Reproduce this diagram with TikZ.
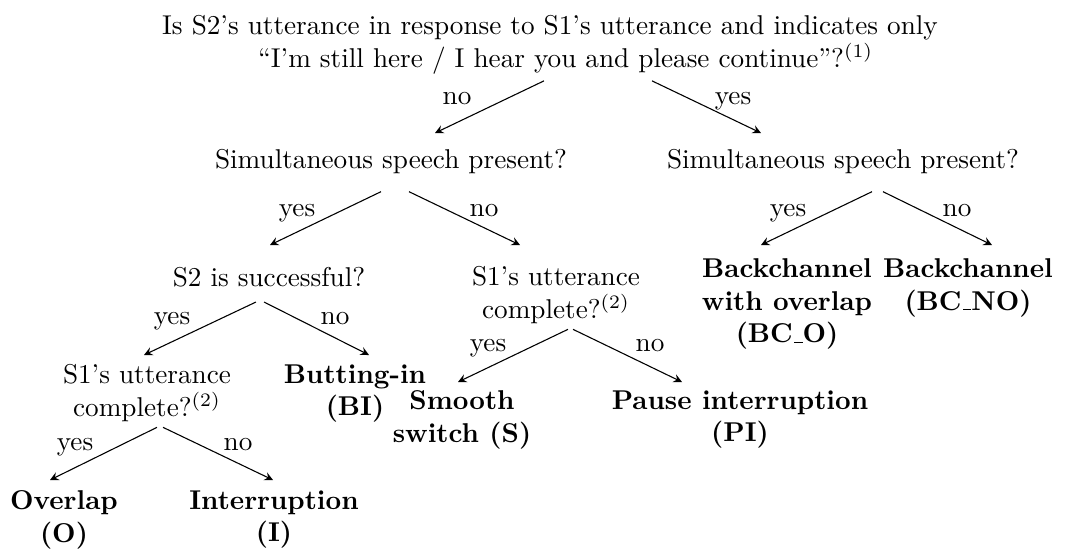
\documentclass[tikz,border=0pt]{standalone}
\usepackage{amsmath}
\usepackage{tikz}
\usetikzlibrary{calc}
\newcommand{\uscore}{\kern.06em\vbox{\hrule width.3em}}

\begin{document}
\begin{tikzpicture}[>=stealth,x=0.3676pt,y=-0.3676pt,
    quest/.style={align=center,anchor=north},
    leaf/.style={align=center,anchor=north,font=\bfseries},
    lab/.style={anchor=base}]
    \useasboundingbox (0,0) rectangle (1069,552);
    % questions
    \node[quest] (root) at (550,6) {Is S2's utterance in response to S1's utterance and indicates only\\
        \hspace*{11.5pt}``I'm still here / I hear you and please continue''?$^{(1)}$};
    \node[quest] (simA) at (391,140) {Simultaneous speech present?};
    \node[quest] (simB) at (843,140) {Simultaneous speech present?};
    \node[quest] (succ) at (269,258) {S2 is successful?};
    \node[quest] (compB) at (556,257) {S1's utterance\\complete?$^{(2)}$};
    \node[quest] (compA) at (147,355) {S1's utterance\\complete?$^{(2)}$};
    % outcomes
    \node[leaf] (bco) at (787,249) {Backchannel\\with overlap\\(BC\uscore O)};
    \node[leaf] (bcno) at (968,249) {Backchannel\\(BC\uscore NO)};
    \node[leaf] (bi) at (355,355) {Butting-in\\(BI)};
    \node[leaf] (smooth) at (462,381) {Smooth\\switch (S)};
    \node[leaf] (pi) at (740,381) {Pause interruption\\(PI)};
    \node[leaf] (ovl) at (64,481) {Overlap\\(O)};
    \node[leaf] (intr) at (274,481) {Interruption\\(I)};
    % edges
    \draw[->] ($(root.south)+(-6,-3)$) -- ($(simA.north)+(44,-7)$);
    \draw[->] ($(root.south)+(102,-3)$) -- ($(simB.north)+(-82,-7)$);
    \draw[->] ($(simA.south)+(-10,8)$) -- ($(succ.north)+(1,-13)$);
    \draw[->] ($(simA.south)+(18,8)$) -- ($(compB.north)+(-36,-12)$);
    \draw[->] ($(simB.south)+(29,8)$) -- ($(bco.north)+(-26,-4)$);
    \draw[->] ($(simB.south)+(40,8)$) -- ($(bcno.north)+(24,-4)$);
    \draw[->] ($(succ.south)+(-13,5)$) -- ($(compA.north)+(-3,0)$);
    \draw[->] ($(succ.south)+(-5,5)$) -- ($(bi.north)+(14,0)$);
    \draw[->] ($(compB.south)+(12,-4)$) -- ($(smooth.north)+(-4,1)$);
    \draw[->] ($(compB.south)+(17,-4)$) -- ($(pi.north)+(-58,1)$);
    \draw[->] ($(compA.south)+(10,-4)$) -- ($(ovl.north)+(-14,-1)$);
    \draw[->] ($(compA.south)+(16,-4)$) -- ($(intr.north)+(-1,-1)$);
    % edge labels
    \node[lab] (l1) at (457,104) {no};
    \node[lab] (l2) at (733,104) {yes};
    \node[lab] (l3) at (297,216) {yes};
    \node[lab] (l4) at (484,216) {no};
    \node[lab] (l5) at (788,216) {yes};
    \node[lab] (l6) at (957,216) {no};
    \node[lab] (l7) at (172,324) {yes};
    \node[lab] (l8) at (335,324) {no};
    \node[lab] (l9) at (488,351) {yes};
    \node[lab] (l10) at (650,351) {no};
    \node[lab] (l11) at (75,450) {yes};
    \node[lab] (l12) at (238,450) {no};
\end{tikzpicture}
\end{document}
